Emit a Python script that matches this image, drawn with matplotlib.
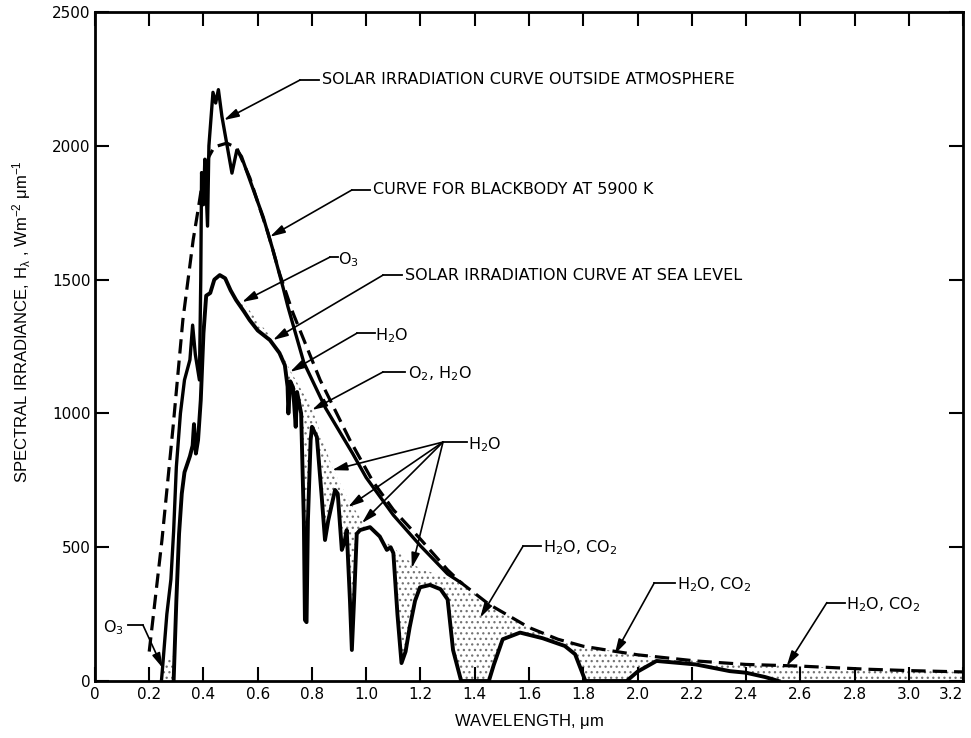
import numpy as np
import matplotlib
matplotlib.use("Agg")
import matplotlib.pyplot as plt

plt.rcParams['font.family'] = ['DejaVu Sans']
plt.rcParams['mathtext.default'] = 'regular'
plt.rcParams['hatch.linewidth'] = 0.9

# --- data (wavelength in um, irradiance in W m-2 um-1) ---
# solar irradiation outside the atmosphere (solid, until it joins the blackbody curve)
outside_wl = [0.245, 0.25, 0.265, 0.28, 0.29, 0.30, 0.315, 0.33, 0.35, 0.36, 0.37, 0.385,
              0.39, 0.393, 0.40, 0.405, 0.415, 0.42, 0.435, 0.445, 0.455, 0.468, 0.49,
              0.505, 0.523, 0.54, 0.571, 0.62, 0.656, 0.693, 0.711, 0.77, 0.85, 0.95,
              1.0, 1.1, 1.2, 1.3, 1.35]
outside_irr = [0, 60, 250, 380, 560, 800, 1000, 1125, 1200, 1330, 1220, 1125,
               1500, 1900, 1780, 1950, 1700, 2000, 2200, 2160, 2210, 2110, 1984,
               1898, 1984, 1960, 1872, 1734, 1611, 1472, 1400, 1190, 1020, 850,
               760, 620, 505, 400, 367]

# blackbody at 5900 K (dashed)
bb_wl = [0.20, 0.247, 0.288, 0.324, 0.362, 0.38, 0.40, 0.42, 0.44, 0.486, 0.523, 0.571,
         0.60, 0.638, 0.68, 0.73, 0.83, 0.94, 1.025, 1.1, 1.2, 1.3, 1.35, 1.452, 1.6,
         1.707, 1.8, 1.91, 2.0, 2.215, 2.4, 2.595, 2.85, 3.0, 3.2]
bb_irr = [110, 527, 950, 1349, 1648, 1760, 1890, 1960, 1996, 2010, 1992, 1880,
          1790, 1674, 1524, 1375, 1125, 900, 745, 640, 530, 415, 367, 287, 200,
          156, 130, 112, 98, 75, 62, 56, 44, 39, 34]

# solar irradiation at sea level
sea_wl = [0.29, 0.295, 0.30, 0.31, 0.32, 0.33, 0.35, 0.36, 0.365, 0.372, 0.38, 0.39,
          0.40, 0.41, 0.425, 0.44, 0.46, 0.48, 0.50, 0.52, 0.55, 0.57, 0.60, 0.645,
          0.68, 0.70, 0.71, 0.713, 0.72, 0.73, 0.74, 0.745, 0.76, 0.77, 0.774, 0.78,
          0.785, 0.795, 0.80, 0.818, 0.835, 0.848, 0.86, 0.885, 0.895, 0.91, 0.92,
          0.928, 0.94, 0.947, 0.955, 0.965, 0.977, 1.014, 1.05, 1.076, 1.09, 1.10,
          1.115, 1.13, 1.145, 1.16, 1.18, 1.198, 1.235, 1.274, 1.30, 1.32, 1.35,
          1.452, 1.47, 1.503, 1.567, 1.65, 1.732, 1.77, 1.808, 1.96, 2.0, 2.07,
          2.215, 2.34, 2.40, 2.47, 2.52]
sea_irr = [0, 150, 300, 550, 700, 780, 840, 880, 960, 850, 900, 1050,
           1300, 1440, 1450, 1500, 1517, 1505, 1460, 1424, 1380, 1349, 1310, 1274,
           1226, 1180, 1100, 1000, 1120, 1098, 950, 1080, 1000, 600, 228, 220,
           600, 900, 950, 912, 700, 527, 600, 714, 700, 490, 520,
           564, 300, 116, 300, 550, 564, 575, 540, 490, 500, 478,
           250, 67, 110, 200, 300, 350, 359, 343, 305, 116, 0,
           0, 60, 156, 181, 160, 131, 100, 0, 0, 35, 75,
           62, 37, 31, 15, 0]

# upper edge of the stippled absorption bands
band_wl = [0.245, 0.26, 0.285, 0.30, 0.53, 0.56, 0.60, 0.645, 0.69, 0.72, 0.76, 0.80,
           0.874, 0.933, 0.984, 1.05, 1.168, 1.2, 1.3, 1.35, 1.452, 1.6, 1.707, 1.8,
           1.91, 2.0, 2.215, 2.4, 2.595, 2.85, 3.0, 3.2]
band_irr = [0, 80, 90, 100, 1420, 1398, 1345, 1292, 1220, 1160, 1090, 1020,
            800, 680, 600, 540, 440, 420, 385, 367, 287, 200, 156, 130,
            112, 98, 75, 62, 56, 44, 39, 34]

xticks = [0, 0.2, 0.4, 0.6, 0.8, 1.0, 1.2, 1.4, 1.6, 1.8, 2.0, 2.2, 2.4, 2.6, 2.8, 3.0, 3.2]
yticks = [0, 500, 1000, 1500, 2000, 2500]

fig = plt.figure(figsize=(9.71, 7.38), dpi=100)
ax = fig.add_axes([0.0978, 0.0772, 0.894, 0.9065])

# stippled absorption bands, masked below the sea-level curve
ax.fill_between(band_wl, 0, band_irr, facecolor='none', edgecolor='0.45',
                linewidth=0, hatch='...', zorder=1)
ax.fill_between(sea_wl, 0, sea_irr, color='white', linewidth=0, zorder=1.5)

ax.plot(bb_wl, bb_irr, color='black', lw=2.3, dashes=(4.5, 2.2), zorder=3)
ax.plot(outside_wl, outside_irr, color='black', lw=2.4, zorder=3,
        solid_joinstyle='round')
ax.plot(sea_wl, sea_irr, color='black', lw=2.8, zorder=3, solid_joinstyle='round')

ax.set_xlim(0, 3.2)
ax.set_ylim(0, 2500)
ax.set_xticks(xticks)
ax.set_xticklabels(['0' if t == 0 else f'{t:.1f}' for t in xticks])
ax.get_xticklabels()[-1].set_horizontalalignment('right')
ax.set_yticks(yticks)
ax.tick_params(direction='in', length=10, width=1.5, top=True, right=True,
               labelsize=11)
ax.tick_params(axis='x', pad=4)
ax.tick_params(axis='y', pad=3)
for s in ax.spines.values():
    s.set_linewidth(2)

ax.set_xlabel('WAVELENGTH, $\\mu$m', fontsize=12, family='Liberation Sans')
ax.xaxis.set_label_coords(0.5, -0.046)
ax.set_ylabel('SPECTRAL IRRADIANCE, H$_\\lambda$ , Wm$^{-2}$ $\\mu$m$^{-1}$',
              fontsize=12, family='Liberation Sans')
ax.yaxis.set_label_coords(-0.0714, 0.537)


def callout(label, text_x, text_y, elbow, tips, gap=0.012):
    ax.text(text_x, text_y, label, fontsize=11.5, ha='left', va='center', zorder=5)
    ax.plot([elbow[0], text_x - gap], [elbow[1], elbow[1]], color='black', lw=1.3,
            zorder=4)
    for tip in tips:
        ax.annotate('', xy=tip, xytext=elbow, zorder=4,
                    arrowprops=dict(arrowstyle='-|>,head_length=0.9,head_width=0.25',
                                    color='black', lw=1.2, shrinkA=0, shrinkB=0,
                                    mutation_scale=10))


callout('SOLAR IRRADIATION CURVE OUTSIDE ATMOSPHERE', 0.837, 2246, (0.756, 2246),
        [(0.475, 2096)])
callout('CURVE FOR BLACKBODY AT 5900 K', 1.025, 1835, (0.947, 1835), [(0.645, 1660)])
callout('O$_3$', 0.896, 1575, (0.866, 1584), [(0.542, 1416)], gap=0.0)
callout('SOLAR IRRADIATION CURVE AT SEA LEVEL', 1.143, 1517, (1.062, 1517),
        [(0.656, 1274)])
callout('H$_2$O', 1.032, 1292, (0.966, 1300), [(0.719, 1155)], gap=0.0)
callout('O$_2$, H$_2$O', 1.154, 1148, (1.062, 1155), [(0.80, 1013)])
callout('H$_2$O', 1.375, 885, (1.283, 893),
        [(0.874, 788), (0.933, 650), (0.984, 590), (1.168, 422)], gap=0.005)
callout('H$_2$O, CO$_2$', 1.65, 497, (1.578, 504), [(1.42, 237)], gap=0.005)
callout('H$_2$O, CO$_2$', 2.145, 360, (2.062, 367), [(1.916, 100)], gap=0.005)
callout('H$_2$O, CO$_2$', 2.77, 286, (2.698, 293), [(2.55, 56)], gap=0.005)

# ozone label at the UV end
ax.text(0.03, 200, 'O$_3$', fontsize=11.5, ha='left', va='center', zorder=5)
ax.plot([0.122, 0.177], [209, 209], color='black', lw=1.3, zorder=4)
ax.annotate('', xy=(0.25, 48), xytext=(0.177, 209), zorder=4,
            arrowprops=dict(arrowstyle='-|>,head_length=0.9,head_width=0.25',
                            color='black', lw=1.2, shrinkA=0, shrinkB=0,
                            mutation_scale=10))

fig.savefig('out.png', dpi=100)
